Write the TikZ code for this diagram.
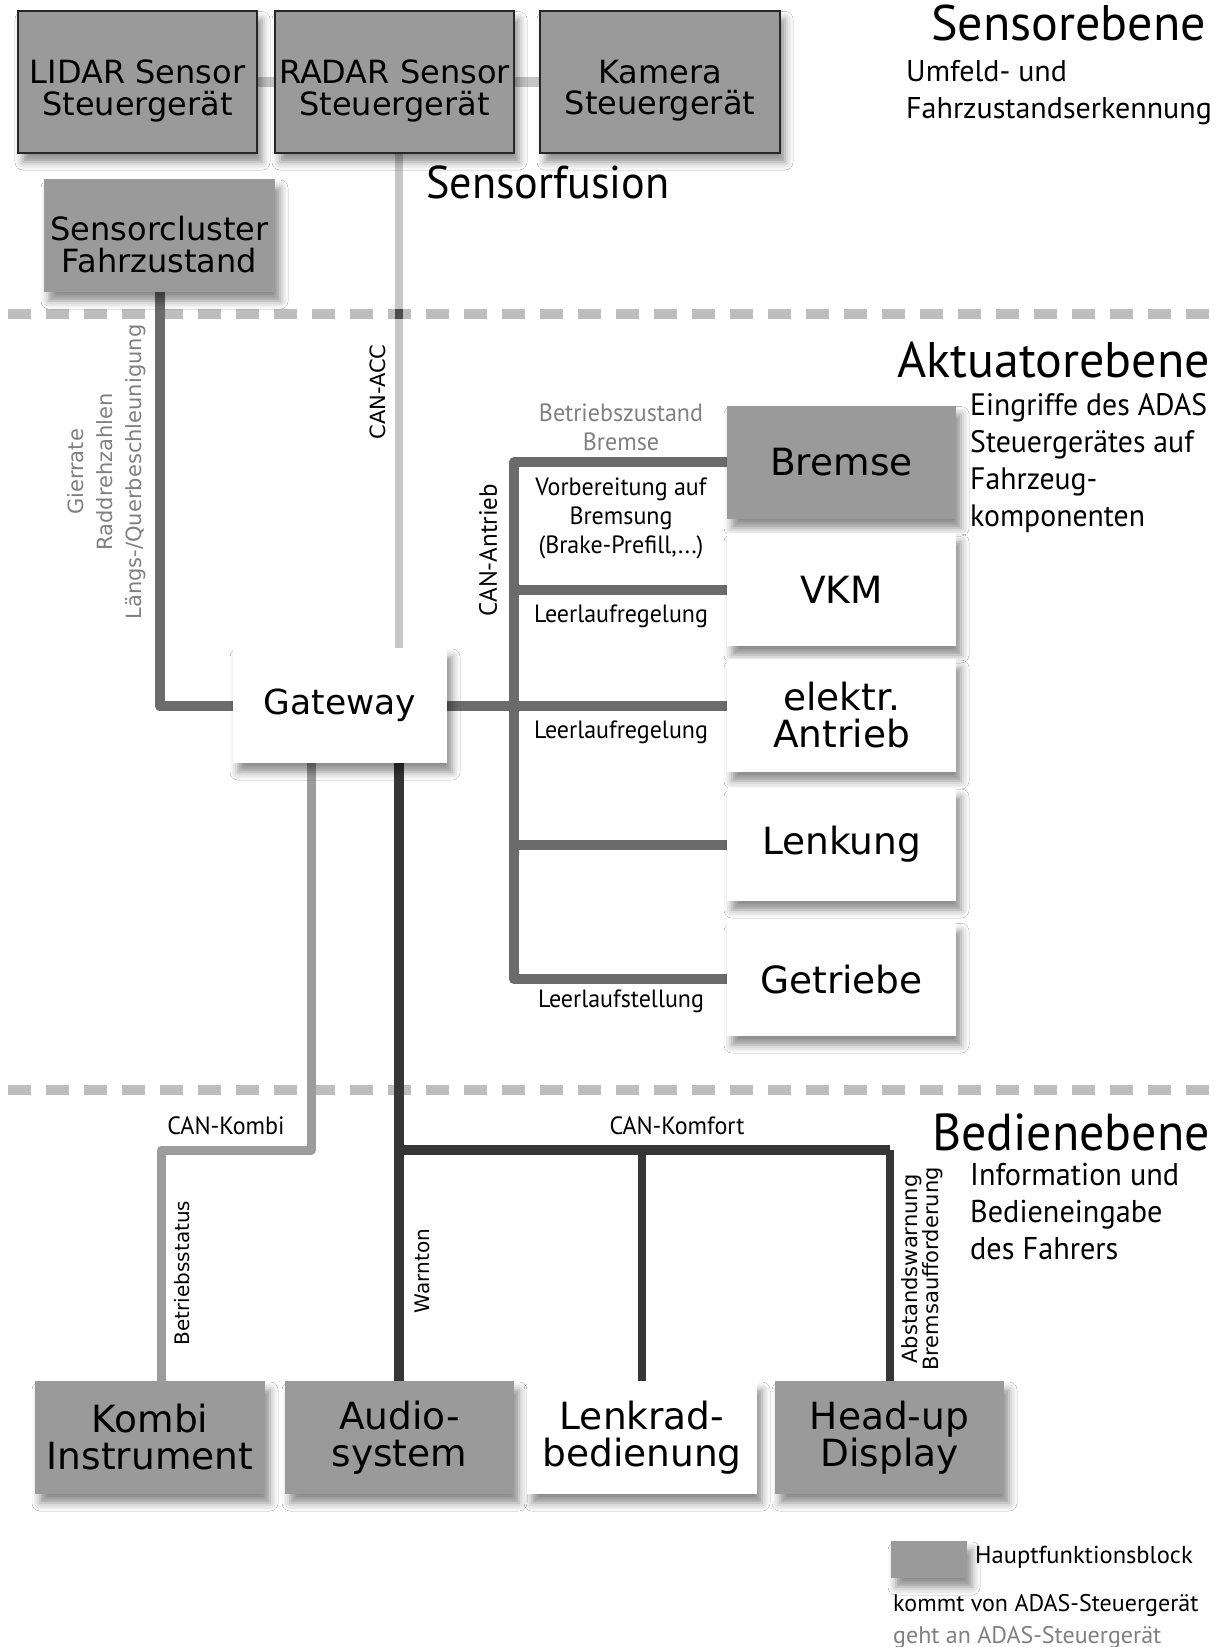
\documentclass[tikz,border=0pt]{standalone}
\usepackage{fontspec}
\usetikzlibrary{shadows.blur,backgrounds}
\setmainfont{PT Sans}
\newfontfamily\vfont{DejaVu Sans}
\newfontfamily\mfont{PT Sans}
\newfontfamily\cfont{PT Sans}[FakeStretch=0.96]
\definecolor{blockgray}{HTML}{9A9A9A}
\definecolor{busmid}{HTML}{6B6B6B}
\definecolor{buslight}{HTML}{C6C6C6}
\definecolor{buskombi}{HTML}{9C9C9C}
\definecolor{busdark}{HTML}{363636}
\definecolor{sepgray}{HTML}{BDBDBD}
\definecolor{labelgray}{HTML}{808080}
\tikzset{
  blk/.style={inner sep=0pt, outer sep=0pt, align=center, anchor=north west,
    minimum width=230pt, minimum height=113pt,
    blur shadow={shadow xshift=5pt, shadow yshift=-9pt, shadow blur radius=8pt, shadow opacity=45}},
  mainblk/.style={blk, fill=blockgray},
  sensblk/.style={mainblk, draw=black!85, line width=2pt},
  whiteblk/.style={blk, fill=white},
  smallbox/.style={font=\vfont\fontsize{32}{31.5}\selectfont, align=center, inner sep=0pt},
  bigbox/.style={font=\vfont\fontsize{37.5}{37}\selectfont},
  title/.style={font=\mfont\fontsize{50}{50}\selectfont, anchor=east, inner sep=0pt},
  ctitle/.style={font=\cfont\fontsize{52}{52}\selectfont, anchor=east, inner sep=0pt},
  subtxt/.style={font=\mfont\fontsize{30}{37}\selectfont, anchor=north west, align=left, inner sep=0pt},
  csubtxt/.style={font=\cfont\fontsize{31.5}{37}\selectfont, anchor=north west, align=left, inner sep=0pt},
  clabel/.style={font=\cfont\fontsize{25}{29}\selectfont, align=center, inner sep=0pt},
  vlabel/.style={font=\vfont\fontsize{21}{29}\selectfont, align=center, inner sep=0pt, rotate=90},
  sep/.style={sepgray, line width=10pt, dash pattern=on 23pt off 15pt},
  sensbar/.style={buslight, line width=10pt},
  accline/.style={buslight, line width=8pt},
  midbus/.style={busmid, line width=10pt, line join=round},
  kombibus/.style={buskombi, line width=9pt, line join=round},
  darkbus/.style={busdark, line width=10pt, line join=round},
  darkbranch/.style={busdark, line width=8pt, line join=round},
}
\begin{document}
\begin{tikzpicture}[x=1pt, y=-1pt]
\useasboundingbox (0,0) rectangle (1223,1647);

% ---- sensor level
\node[sensblk, minimum width=239pt, minimum height=142.5pt] (lidar) at (18,10.5) {};
\node[sensblk, minimum width=239pt, minimum height=142.5pt] (radar) at (275,10.5) {};
\node[sensblk, minimum width=240pt, minimum height=142.5pt] (kamera) at (540,10.5) {};
\node[mainblk, minimum width=231pt] (cluster) at (44,179) {};
\node[smallbox] (lidartxt) at ([yshift=-9pt]lidar.center) {LIDAR Sensor\\Steuergerät};
\node[smallbox] (radartxt) at ([yshift=-9pt]radar.center) {RADAR Sensor\\Steuergerät};
\node[smallbox] (kameratxt) at ([yshift=-9pt]kamera.center) {Kamera\\Steuergerät};
\node[smallbox] (clustertxt) at ([yshift=-9pt]cluster.center) {Sensorcluster\\Fahrzustand};

\node[title] (tsens) at (1206,23) {Sensorebene};
\node[subtxt] (dsens) at (906,60.5) {Umfeld- und\\Fahrzustandserkennung};
\node[font=\cfont\fontsize{46}{46}\selectfont, anchor=west, inner sep=0pt] (fusion) at (426,182) {Sensorfusion};

% ---- actuator level
\node[whiteblk, font=\vfont\fontsize{34.5}{34.5}\selectfont, minimum width=214pt, minimum height=115pt] (gw) at (233,648) {Gateway};
\node[mainblk, bigbox, minimum width=229pt, minimum height=113.5pt] (bremse) at (727,405.5) {Bremse};
\node[whiteblk, bigbox, minimum width=229pt] (vkm) at (727,533) {VKM};
\node[whiteblk, bigbox, minimum width=229pt] (elektr) at (727,659) {elektr.\\Antrieb};
\node[whiteblk, bigbox, minimum width=229pt] (lenkung) at (727,788) {Lenkung};
\node[whiteblk, bigbox, minimum width=229pt, minimum height=113.5pt] (getriebe) at (727,922.5) {Getriebe};

\node[title] (takt) at (1210,360) {Aktuatorebene};
\node[csubtxt, font=\cfont\fontsize{31}{37}\selectfont] (dakt) at (970,393) {Eingriffe des ADAS\\Steuergerätes auf\\Fahrzeug-\\komponenten};

\node[clabel, text=labelgray] (lbzb) at (621,427) {Betriebszustand\\Bremse};
\node[clabel] (lvorb) at (621,518) {Vorbereitung auf\\Bremsung\\(Brake-Prefill,...)};
\node[clabel] (lleer1) at (621,616) {Leerlaufregelung};
\node[clabel] (lleer2) at (621,732) {Leerlaufregelung};
\node[clabel] (lleerst) at (621,1001) {Leerlaufstellung};
\node[font=\mfont\fontsize{25}{25}\selectfont, rotate=90, inner sep=0pt] (lantr) at (488,550) {CAN-Antrieb};
\node[vlabel] (lacc) at (378,392) {CAN-ACC};
\node[vlabel, text=labelgray] (lgier) at (107,472) {Gierrate\\Raddrehzahlen\\Längs-/Querbeschleunigung};

% ---- operating level
\node[mainblk, bigbox] (kombi) at (35,1381) {Kombi\\Instrument};
\node[mainblk, bigbox, minimum width=229pt] (audio) at (285,1381) {Audio-\\system};
\node[whiteblk, bigbox] (lenkrad) at (527,1381) {Lenkrad-\\bedienung};
\node[mainblk, bigbox, minimum width=229pt] (hud) at (775,1381) {Head-up\\Display};

\node[ctitle] (tbed) at (1210,1132) {Bedienebene};
\node[csubtxt] (dbed) at (970,1163) {Information und\\Bedieneingabe\\des Fahrers};

\node[clabel] (lkombi) at (226,1126) {CAN-Kombi};
\node[clabel] (lkomfort) at (677,1126) {CAN-Komfort};
\node[vlabel, font=\vfont\fontsize{20}{29}\selectfont] (lstatus) at (182,1273) {Betriebsstatus};
\node[vlabel, font=\vfont\fontsize{20}{29}\selectfont] (lwarn) at (422,1271) {Warnton};
\node[font=\vfont\fontsize{21}{19}\selectfont, align=center, inner sep=0pt, rotate=90] (lhud) at (922,1269) {Abstandswarnung\\Bremsaufforderung};

% ---- legend
\node[mainblk, minimum width=76pt, minimum height=37pt] (leg) at (891,1541) {};
\node[font=\mfont\fontsize{24.5}{24.5}\selectfont, anchor=west, inner sep=0pt] (legtxt) at (975,1557) {Hauptfunktionsblock};
\node[font=\mfont\fontsize{24}{24}\selectfont, anchor=west, inner sep=0pt] (legin) at (893,1605) {kommt von ADAS-Steuergerät};
\node[font=\mfont\fontsize{24}{24}\selectfont, anchor=west, inner sep=0pt, text=labelgray] (legout) at (893,1637) {geht an ADAS-Steuergerät};

% ---- bus lines behind the blocks
\coordinate (accx) at (399,0);
\coordinate (busx) at (514,0);
\coordinate (kombix) at (311,0);
\coordinate (kombiend) at (161,0);
\coordinate (komfy) at (0,1150);
\coordinate (sepy) at (0,314);
\begin{pgfonlayer}{background}
  \fill[white] (0,0) rectangle (1223,1647);
  \draw[sep] (8,314) -- (1223,314);
  \draw[sep] (8,1090) -- (1223,1090);
  \draw[sensbar] (lidar.east) -- (kamera.west);
  \draw[accline] (radar.south -| accx) -- (gw.north -| accx);
  % darker spot where the ACC line overlaps a dash
  \fill[black!70] (accx |- sepy) ++(-4,-5) rectangle ++(8,10);
  \draw[midbus] (cluster.south) -- (cluster.south |- gw.west) -- (gw.west);
  \draw[midbus] (bremse.west) -- (bremse.west -| busx) -- (getriebe.west -| busx) -- (getriebe.west);
  \draw[midbus] (busx |- vkm.west) -- (vkm.west);
  \draw[midbus] (gw.east) -- (gw.east -| elektr.west);
  \draw[midbus] (busx |- lenkung.west) -- (lenkung.west);
  \draw[kombibus] (gw.south -| kombix) -- (kombix |- komfy) -- (kombiend |- komfy) -- (kombi.north -| kombiend);
  \draw[darkbus] (gw.south -| accx) -- (audio.north -| accx);
  \draw[darkbus] (accx |- komfy) -- (hud.north |- komfy);
  \draw[darkbranch] (hud.north |- komfy) -- (hud.north);
  \draw[darkbranch] (lenkrad.north |- komfy) -- (lenkrad.north);
\end{pgfonlayer}
\end{tikzpicture}
\end{document}
